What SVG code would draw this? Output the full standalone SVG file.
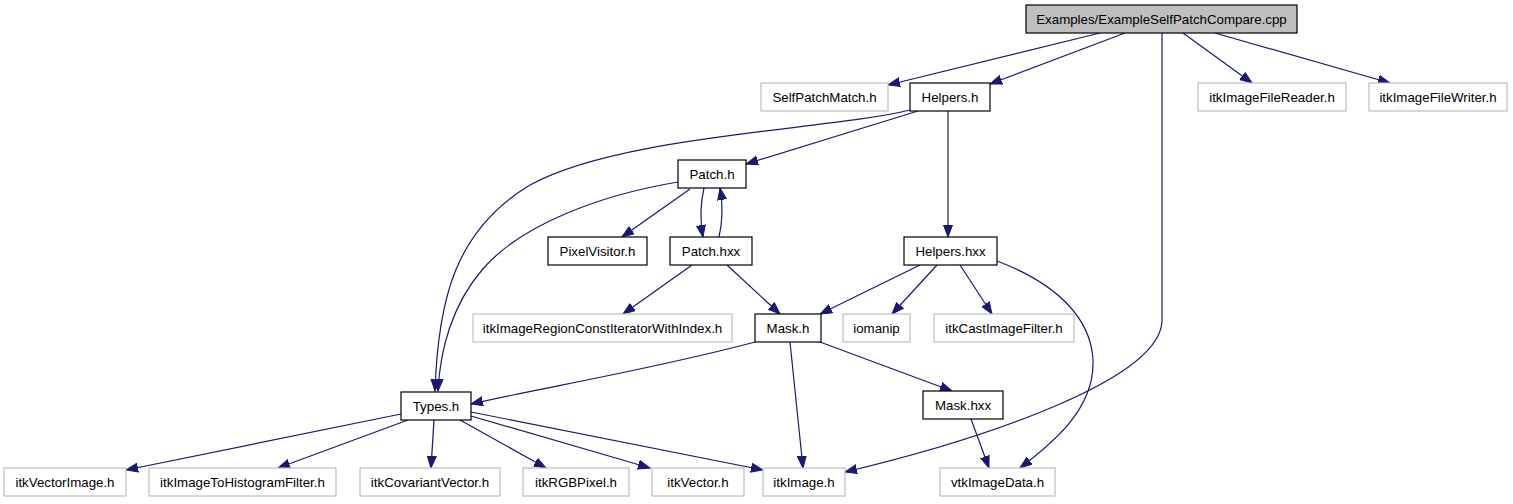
<svg xmlns="http://www.w3.org/2000/svg" width="1513" height="504" viewBox="0 0 1513 504">
<defs>
<style>
.n rect{fill:#ffffff;stroke:#000000;stroke-width:1.2}
.g rect{fill:#ffffff;stroke:#bfbfbf;stroke-width:1.2}
.root rect{fill:#bfbfbf;stroke:#000000;stroke-width:1.2}
text{font-family:"Liberation Sans",Arial,Helvetica,sans-serif;font-size:13.3px;fill:#000000;text-anchor:middle}
.e path{fill:none;stroke:#191970;stroke-width:1.2;marker-end:url(#ah)}
</style>
<marker id="ah" markerUnits="userSpaceOnUse" markerWidth="14" markerHeight="10" refX="12" refY="5" orient="auto">
<path d="M0,0.5 L12,5 L0,9.5 z" fill="#191970" stroke="#191970" stroke-width="1"/>
</marker>
</defs>
<rect width="1513" height="504" fill="#ffffff"/>
<g id="edges" class="e">
<path d="M1100,33 L888,85"/>
<path d="M1125,33 L990,84"/>
<path d="M1162,33 L1162,320 C1162,380 980,440 845,472"/>
<path d="M1183,33 L1252,83"/>
<path d="M1215,33 L1390,83"/>
<path d="M918,111 L746,164"/>
<path d="M910,110 C830,130 620,135 530,185 C455,230 438,300 435,391"/>
<path d="M948,111 L948,237"/>
<path d="M678,182 C600,195 520,225 482,270 C452,305 440,350 438,391"/>
<path d="M690,189 L622,237"/>
<path d="M704,188 C700,205 700,220 703,237"/>
<path d="M719,237 C723,220 723,205 720,188"/>
<path d="M692,265 L623,314"/>
<path d="M727,265 L780,314"/>
<path d="M920,265 L820,314"/>
<path d="M937,265 L892,314"/>
<path d="M960,265 L992,314"/>
<path d="M997,261 C1060,285 1091,320 1093,360 C1095,410 1050,445 1020,468"/>
<path d="M755,342 C650,370 540,388 471,404"/>
<path d="M790,342 L803,468"/>
<path d="M820,342 L952,391"/>
<path d="M971,419 L989,468"/>
<path d="M401,414 L126,470"/>
<path d="M408,420 L278,468"/>
<path d="M434,420 L431,468"/>
<path d="M460,420 L546,468"/>
<path d="M471,416 L650,468"/>
<path d="M471,412 L763,470"/>
</g>
<g id="node-root" class="root"><rect x="1026" y="5" width="271" height="28"/><text x="1161.5" y="24">Examples/ExampleSelfPatchCompare.cpp</text></g>
<g id="node-selfpatchmatch" class="g"><rect x="761" y="83" width="127" height="28"/><text x="824.5" y="102">SelfPatchMatch.h</text></g>
<g id="node-helpers-h" class="n"><rect x="910" y="83" width="80" height="28"/><text x="950" y="102">Helpers.h</text></g>
<g id="node-filereader" class="g"><rect x="1198" y="83" width="148" height="28"/><text x="1272" y="102">itkImageFileReader.h</text></g>
<g id="node-filewriter" class="g"><rect x="1369" y="83" width="138" height="28"/><text x="1438" y="102">itkImageFileWriter.h</text></g>
<g id="node-patch-h" class="n"><rect x="678" y="160" width="68" height="28"/><text x="712" y="179">Patch.h</text></g>
<g id="node-pixelvisitor" class="n"><rect x="548" y="237" width="99" height="28"/><text x="597.5" y="256">PixelVisitor.h</text></g>
<g id="node-patch-hxx" class="n"><rect x="670" y="237" width="82" height="28"/><text x="711" y="256">Patch.hxx</text></g>
<g id="node-helpers-hxx" class="n"><rect x="904" y="237" width="93" height="28"/><text x="950.5" y="256">Helpers.hxx</text></g>
<g id="node-regioniter" class="g"><rect x="473" y="314" width="259" height="28"/><text x="602.5" y="333">itkImageRegionConstIteratorWithIndex.h</text></g>
<g id="node-mask-h" class="n"><rect x="755" y="314" width="66" height="28"/><text x="788" y="333">Mask.h</text></g>
<g id="node-iomanip" class="g"><rect x="843" y="314" width="67" height="28"/><text x="876.5" y="333">iomanip</text></g>
<g id="node-castfilter" class="g"><rect x="934" y="314" width="140" height="28"/><text x="1004" y="333">itkCastImageFilter.h</text></g>
<g id="node-types-h" class="n"><rect x="401" y="392" width="70" height="28"/><text x="436" y="411">Types.h</text></g>
<g id="node-mask-hxx" class="n"><rect x="923" y="391" width="80" height="28"/><text x="963" y="410">Mask.hxx</text></g>
<g id="node-vectorimage" class="g"><rect x="4" y="468" width="122" height="28"/><text x="65" y="487">itkVectorImage.h</text></g>
<g id="node-histfilter" class="g"><rect x="149" y="468" width="187" height="28"/><text x="242.5" y="487">itkImageToHistogramFilter.h</text></g>
<g id="node-covvector" class="g"><rect x="360" y="468" width="140" height="28"/><text x="430" y="487">itkCovariantVector.h</text></g>
<g id="node-rgbpixel" class="g"><rect x="523" y="468" width="106" height="28"/><text x="576" y="487">itkRGBPixel.h</text></g>
<g id="node-vector" class="g"><rect x="652" y="468" width="92" height="28"/><text x="698" y="487">itkVector.h</text></g>
<g id="node-itkimage" class="g"><rect x="763" y="468" width="82" height="28"/><text x="804" y="487">itkImage.h</text></g>
<g id="node-vtkimagedata" class="g"><rect x="940" y="468" width="115" height="28"/><text x="997.5" y="487">vtkImageData.h</text></g>
</svg>
